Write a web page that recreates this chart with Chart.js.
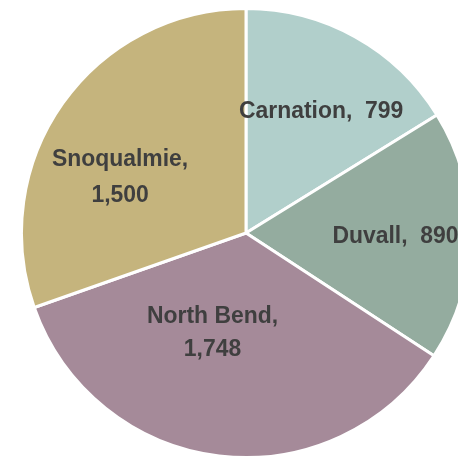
<!DOCTYPE html>
<html>
<head>
<meta charset="utf-8">
<script src="https://cdn.jsdelivr.net/npm/chart.js@4"></script>
<style>
  html, body { margin: 0; padding: 0; background: #fff; overflow: hidden; width: 458px; height: 458px; }
  #wrap { position: absolute; left: 0; top: 7px; width: 492px; height: 452px; }
</style>
</head>
<body>
<div id="wrap"><canvas id="pie"></canvas></div>
<script>
const cities = ['Carnation', 'Duvall', 'North Bend', 'Snoqualmie'];
const counts = [799, 890, 1748, 1500];
const sliceColors = ['#B1CFCB', '#94AC9F', '#A58A99', '#C5B47D'];

// label placement per slice: [radius fraction, angle shift in degrees, half line gap (0 = one line)]
const labelPlace = [
  [0.638, 2.5, 0],
  [0.666, 0.6, 0],
  [0.468, 11.7, 16.5],
  [0.613, -11.5, 18]
];

const fmt = n => n.toLocaleString('en-US');

const sliceLabels = {
  id: 'sliceLabels',
  afterDatasetsDraw(chart) {
    const ctx = chart.ctx;
    const meta = chart.getDatasetMeta(0);
    meta.data.forEach((arc, i) => {
      const p = arc.getProps(['x', 'y', 'startAngle', 'endAngle', 'outerRadius'], true);
      const [frac, shift, gap] = labelPlace[i];
      const a = (p.startAngle + p.endAngle) / 2 + shift * Math.PI / 180;
      const r = p.outerRadius * frac;
      ctx.save();
      ctx.translate(p.x + Math.cos(a) * r, p.y + Math.sin(a) * r);
      // the labels use a slightly narrowed bold face
      ctx.scale(0.955, 1);
      ctx.font = 'bold 24px "Liberation Sans", Arial, sans-serif';
      ctx.fillStyle = '#3F3F3F';
      ctx.textAlign = 'center';
      ctx.textBaseline = 'middle';
      if (gap) {
        ctx.fillText(cities[i] + ',', 0, -gap);
        ctx.fillText(fmt(counts[i]), 0, gap);
      } else {
        ctx.fillText(cities[i] + ',  ' + fmt(counts[i]), 0, 0);
      }
      ctx.restore();
    });
  }
};

new Chart(document.getElementById('pie'), {
  type: 'pie',
  data: {
    labels: cities,
    datasets: [{
      data: counts,
      backgroundColor: sliceColors,
      borderColor: '#ffffff',
      borderWidth: 3
    }]
  },
  options: {
    responsive: true,
    maintainAspectRatio: false,
    animation: false,
    layout: { padding: 0 },
    plugins: {
      legend: { display: false },
      tooltip: { enabled: false }
    }
  },
  plugins: [sliceLabels]
});
</script>
</body>
</html>
